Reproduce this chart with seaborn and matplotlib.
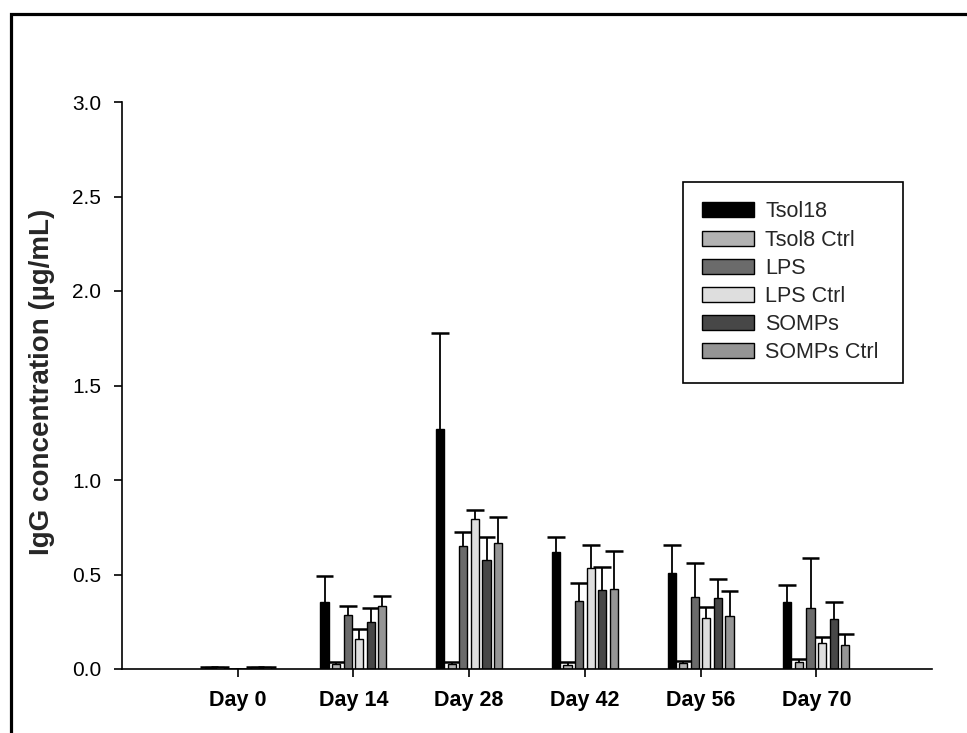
import numpy as np
import pandas as pd
import matplotlib
matplotlib.use("Agg")
import matplotlib.pyplot as plt
from matplotlib.patches import Rectangle
import seaborn as sns

days = ["Day 0", "Day 14", "Day 28", "Day 42", "Day 56", "Day 70"]
groups = ["Tsol18", "Tsol8 Ctrl", "LPS", "LPS Ctrl", "SOMPs", "SOMPs Ctrl"]

tsol18 = [0.010, 0.353, 1.268, 0.621, 0.506, 0.353]
tsol8_ctrl = [0.008, 0.025, 0.025, 0.022, 0.030, 0.039]
lps = [0.002, 0.286, 0.651, 0.361, 0.383, 0.321]
lps_ctrl = [0.002, 0.159, 0.794, 0.533, 0.270, 0.136]
somps = [0.010, 0.247, 0.575, 0.420, 0.377, 0.265]
somps_ctrl = [0.013, 0.332, 0.667, 0.425, 0.280, 0.125]

tsol18_err = [0.0, 0.139, 0.511, 0.079, 0.148, 0.093]
tsol8_ctrl_err = [0.0, 0.010, 0.010, 0.013, 0.012, 0.014]
lps_err = [0.0, 0.046, 0.072, 0.092, 0.178, 0.268]
lps_ctrl_err = [0.0, 0.053, 0.047, 0.121, 0.056, 0.035]
somps_err = [0.0, 0.076, 0.125, 0.118, 0.097, 0.091]
somps_ctrl_err = [0.0, 0.056, 0.135, 0.199, 0.133, 0.059]

colors = ["#000000", "#b2b2b2", "#6b6b6b", "#dedede", "#474747", "#959595"]

values = [tsol18, tsol8_ctrl, lps, lps_ctrl, somps, somps_ctrl]
errors = [tsol18_err, tsol8_ctrl_err, lps_err, lps_ctrl_err, somps_err, somps_ctrl_err]

rows = []
for g, vals in zip(groups, values):
    for d, v in zip(days, vals):
        rows.append({"day": d, "group": g, "value": v})
df = pd.DataFrame(rows)

sns.set_style("ticks")
plt.rcParams["font.family"] = ["Liberation Sans", "DejaVu Sans"]

fig = plt.figure(figsize=(9.67, 7.33), dpi=100)
ax = fig.add_axes([122 / 967, 1 - 669 / 733, (932 - 122) / 967, (669 - 102) / 733])

sns.barplot(data=df, x="day", y="value", hue="group", order=days, hue_order=groups,
            palette=dict(zip(groups, colors)), width=0.6, gap=0.3,
            edgecolor="black", linewidth=1.0, errorbar=None, ax=ax, zorder=3)

# one-sided (upper) error bars, positioned from the drawn bar patches
for cont, errs in zip(ax.containers, errors):
    for bar, e in zip(cont, errs):
        x = bar.get_x() + bar.get_width() / 2
        h = bar.get_height()
        cap_half = bar.get_width() * 1.1
        if e > 0:
            ax.vlines(x, h, h + e, colors="black", linewidth=1.3, zorder=2)
        ax.hlines(h + e, x - cap_half, x + cap_half, colors="black", linewidth=1.8, zorder=2)

ax.set_xlim(-1, 6)
ax.set_ylim(0, 3.0)
ax.set_yticks([0, 0.5, 1.0, 1.5, 2.0, 2.5, 3.0])
ax.set_yticklabels(["0.0", "0.5", "1.0", "1.5", "2.0", "2.5", "3.0"])
ax.set_xlabel("")
ax.set_ylabel("IgG concentration (µg/mL)", fontsize=20, fontweight="bold")
ax.yaxis.set_label_coords((42 - 122) / 810, 0.507)
ax.yaxis.label.set_va("center")

for s in ["top", "right"]:
    ax.spines[s].set_visible(False)
for s in ["left", "bottom"]:
    ax.spines[s].set_linewidth(1.2)
    ax.spines[s].set_color("black")
    ax.spines[s].set_zorder(4)

ax.tick_params(axis="y", direction="out", length=6, width=1.2, pad=9,
               labelsize=15, colors="black")
ax.tick_params(axis="x", direction="out", length=6, width=1.2, pad=9,
               labelsize=15.5, colors="black")
for lab in ax.get_xticklabels():
    lab.set_fontweight("bold")

lx = (683 - 122) / 810
ly = (669 - 182) / 567
lw = (903 - 683) / 810
leg = ax.legend(loc="upper left", bbox_to_anchor=(lx, ly - 0.3, lw, 0.3), mode="expand",
                fontsize=15.5, frameon=True, fancybox=False, shadow=False,
                handlelength=2.42, handleheight=0.7, handletextpad=0.5,
                labelspacing=0.335, borderpad=0.9, borderaxespad=0, title=None)
leg.get_frame().set_edgecolor("black")
leg.get_frame().set_linewidth(1.2)
leg.get_frame().set_facecolor("white")
leg.get_frame().set_alpha(1)

fig.patches.append(Rectangle((10.8 / 967, -1), 2, 2 - 13.7 / 733, transform=fig.transFigure,
                             fill=False, edgecolor="black", linewidth=2.3, zorder=10))

fig.savefig("out.png", dpi=100, facecolor="white")
